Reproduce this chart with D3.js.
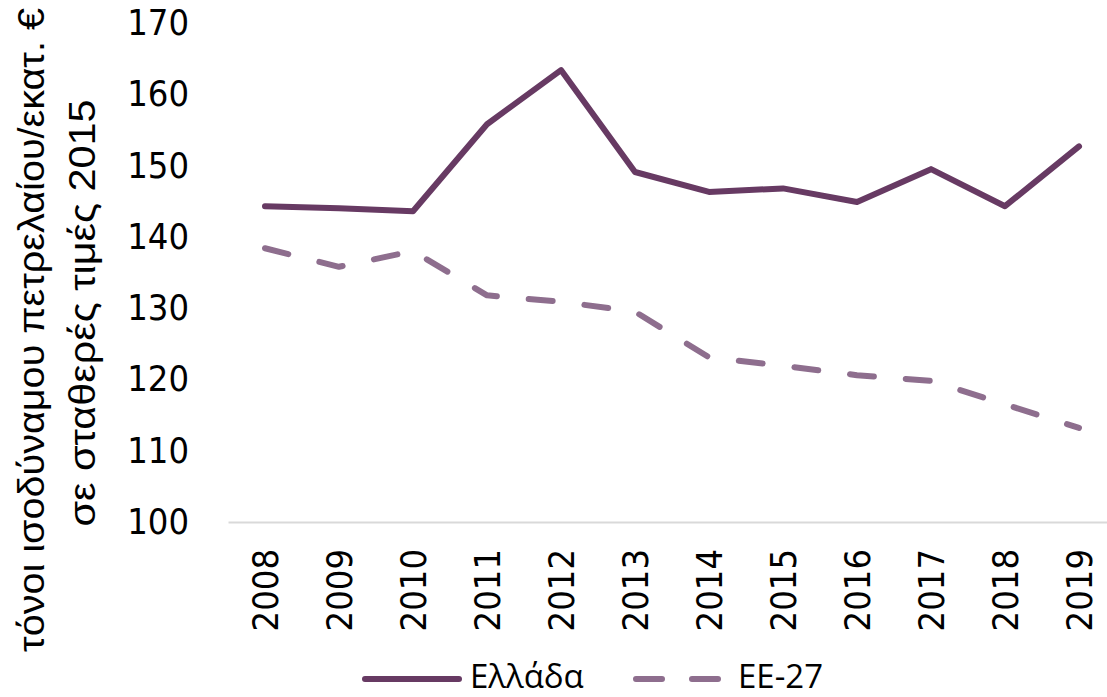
<!DOCTYPE html>
<html>
<head>
<meta charset="utf-8">
<script src="https://cdn.jsdelivr.net/npm/d3@7"></script>
<style>
  body { margin: 0; background: #fff; }
</style>
</head>
<body>
<div id="chart"></div>
<script>
// data
var years = ["2008", "2009", "2010", "2011", "2012", "2013", "2014", "2015", "2016", "2017", "2018", "2019"];
var greece = [144.3, 144.0, 143.6, 155.8, 163.4, 149.1, 146.3, 146.8, 144.9, 149.5, 144.3, 152.7];
var eu27 = [138.4, 135.8, 138.0, 131.8, 130.9, 129.5, 123.1, 121.9, 120.6, 119.8, 116.5, 113.2];
var yTicks = [100, 110, 120, 130, 140, 150, 160, 170];
var seriesNames = ["Ελλάδα", "ΕΕ-27"];
var titleLines = ["τόνοι ισοδύναμου πετρελαίου/εκατ. €", "σε σταθερές τιμές 2015"];

var svgWidth = 1107,
    svgHeight = 697
var colGr = "#673a63",
    colEu = "#8e6e8e"

var svg = d3.select("#chart").append("svg").attr("width", svgWidth).attr("height", svgHeight)

var xScale = d3.scaleBand().domain(years).range([228, 1116])
var yScale = d3.scaleLinear().domain([100, 170]).range([522, 23])
var xc = function(d) { return xScale(d) + xScale.bandwidth() / 2; }

// x axis (line + rotated labels)
var xAxis = svg.append("g")
    .attr("transform", "translate(0, 522)")
    .call(d3.axisBottom(xScale).tickSize(0).tickPadding(0))
xAxis.select(".domain").attr("stroke", "#d9d9d9").attr("stroke-width", 2)
xAxis.selectAll("text")
    .attr("font-family", "'DejaVu Sans Condensed', 'DejaVu Sans'")
    .attr("font-stretch", "condensed")
    .attr("font-size", 36)
    .attr("fill", "#000")
    .attr("text-anchor", "end")
    .attr("dy", "0.35em")
    .attr("transform", "translate(0, 27) rotate(-90)")
    .attr("y", 0)

// y axis labels, no line
var yAxis = svg.append("g")
    .attr("transform", "translate(228, 0)")
    .call(d3.axisLeft(yScale).tickValues(yTicks).tickSize(0).tickPadding(39))
yAxis.select(".domain").remove()
yAxis.selectAll("text")
    .attr("font-family", "'DejaVu Sans Condensed', 'DejaVu Sans'")
    .attr("font-stretch", "condensed")
    .attr("font-size", 36)
    .attr("fill", "#000")

// y axis title, two lines
svg.append("text")
    .attr("transform", "translate(44, 330) rotate(-90)")
    .attr("text-anchor", "middle")
    .attr("font-family", "'Liberation Sans Narrow', 'Liberation Sans'")
    .attr("font-size", 37)
    .attr("textLength", 644)
    .attr("lengthAdjust", "spacingAndGlyphs")
    .text(titleLines[0])
svg.append("text")
    .attr("transform", "translate(95, 313) rotate(-90)")
    .attr("text-anchor", "middle")
    .attr("font-family", "'Liberation Sans Narrow', 'Liberation Sans'")
    .attr("font-size", 37)
    .attr("textLength", 427)
    .attr("lengthAdjust", "spacingAndGlyphs")
    .text(titleLines[1])

var line = d3.line()
    .x(function(d, i) { return xc(years[i]); })
    .y(function(d) { return yScale(d); })

svg.append("path")
    .datum(eu27)
    .attr("d", line)
    .attr("fill", "none")
    .attr("stroke", colEu)
    .attr("stroke-width", 6)
    .attr("stroke-linecap", "round")
    .attr("stroke-linejoin", "round")
    .attr("stroke-dasharray", "24,32")

svg.append("path")
    .datum(greece)
    .attr("d", line)
    .attr("fill", "none")
    .attr("stroke", colGr)
    .attr("stroke-width", 6)
    .attr("stroke-linecap", "round")
    .attr("stroke-linejoin", "round")

// legend
var legY = 679
var leg = svg.append("g")
leg.append("line")
    .attr("x1", 365).attr("x2", 459).attr("y1", legY).attr("y2", legY)
    .attr("stroke", colGr).attr("stroke-width", 6).attr("stroke-linecap", "round")
leg.append("text")
    .attr("x", 470).attr("y", 688)
    .attr("font-family", "'Open Sans', 'Noto Sans'")
    .attr("font-size", 33)
    .text(seriesNames[0])
leg.append("line")
    .attr("x1", 636).attr("x2", 718).attr("y1", legY).attr("y2", legY)
    .attr("stroke", colEu).attr("stroke-width", 6).attr("stroke-linecap", "round")
    .attr("stroke-dasharray", "26,30")
leg.append("text")
    .attr("x", 738).attr("y", 688)
    .attr("font-family", "'Open Sans', 'Noto Sans'")
    .attr("font-size", 33)
    .text(seriesNames[1])
</script>
</body>
</html>
